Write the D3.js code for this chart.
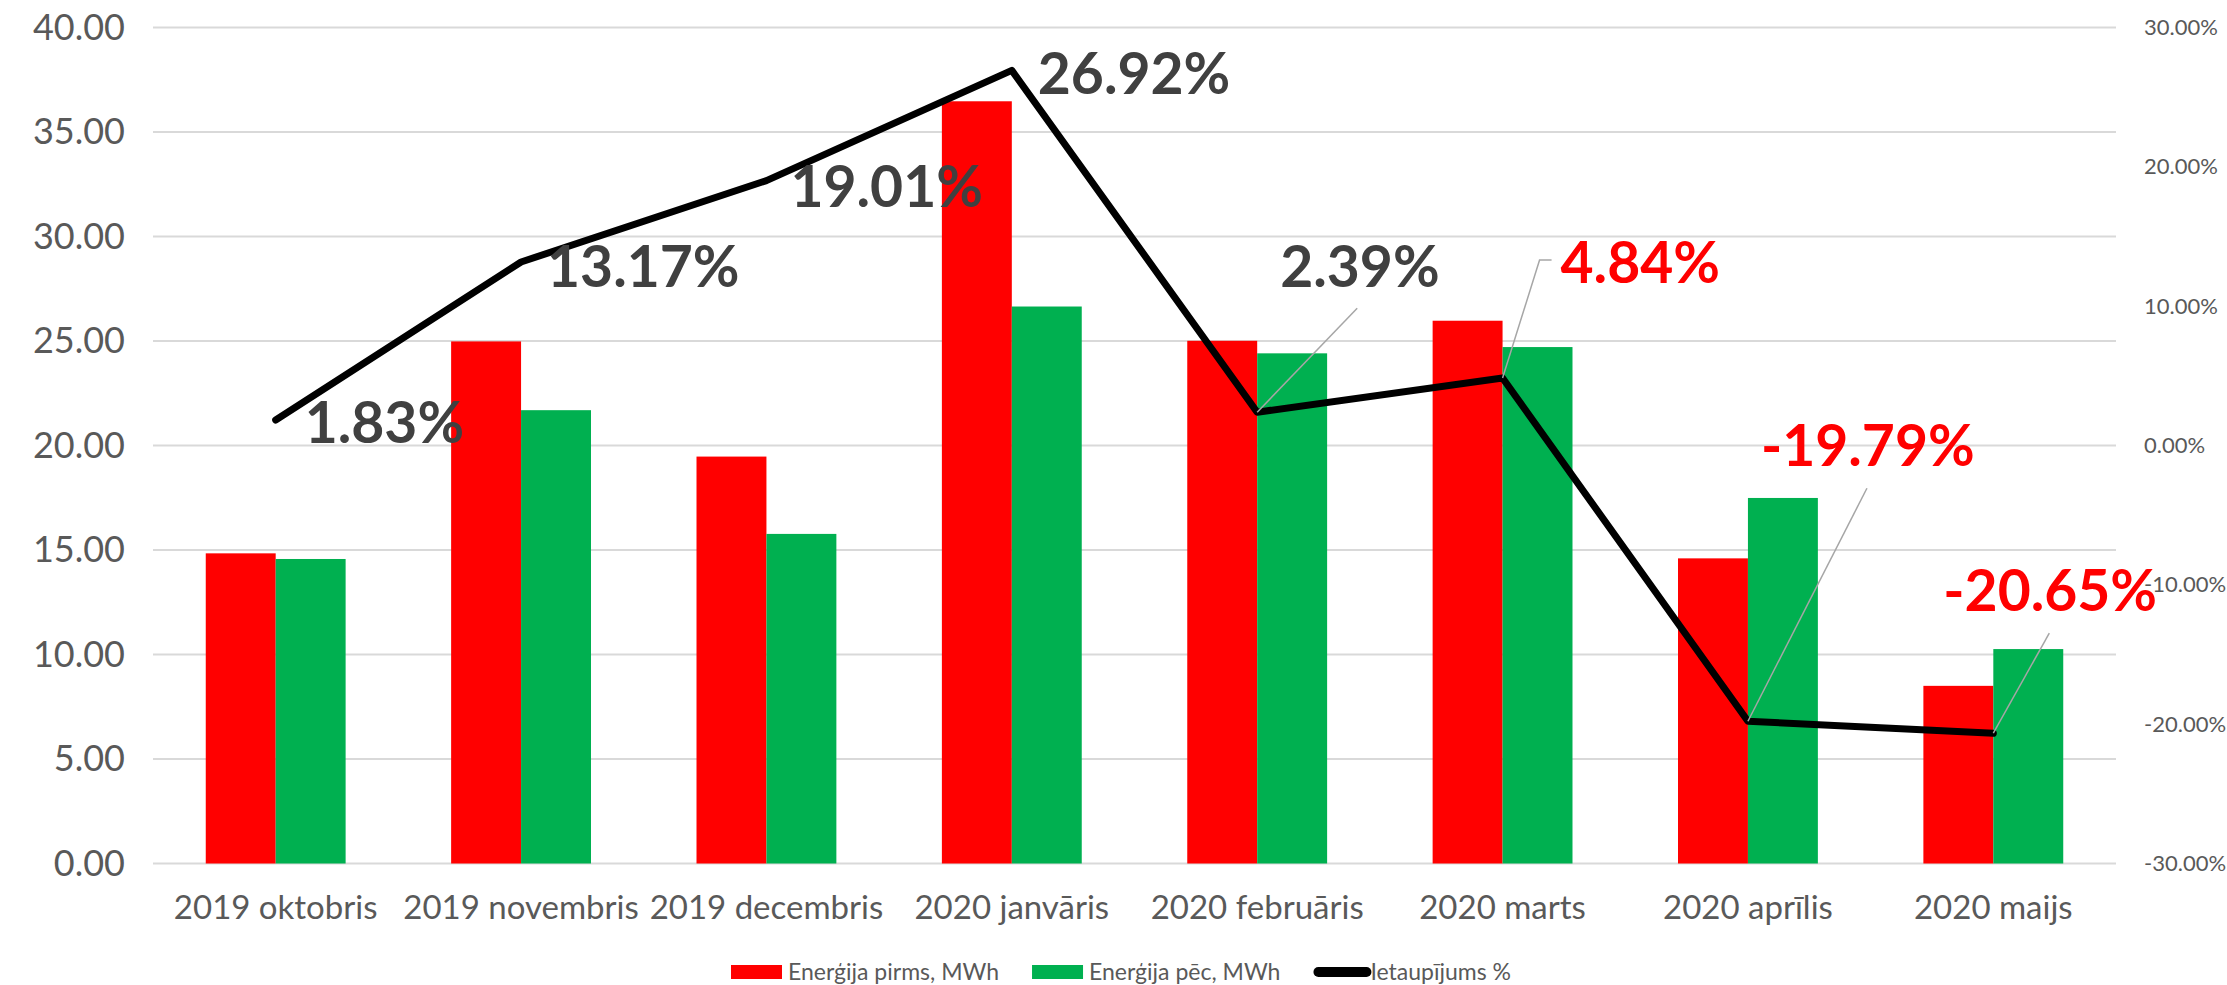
<!DOCTYPE html>
<html>
<head>
<meta charset="utf-8">
<script src="https://cdn.jsdelivr.net/npm/d3@7"></script>
<style>
  body { margin: 0; background: #fff; }
  text { font-family: Lato, "Noto Sans", sans-serif; }
</style>
</head>
<body>
<div id="chart"></div>
<script>
// Data
const months = ["2019 oktobris", "2019 novembris", "2019 decembris", "2020 janvāris",
  "2020 februāris", "2020 marts", "2020 aprīlis", "2020 maijs"];
const energyBefore = [14.84, 24.98, 19.47, 36.47, 25.01, 25.97, 14.60, 8.50];
const energyAfter = [14.57, 21.69, 15.77, 26.65, 24.41, 24.71, 17.49, 10.26];
const savings = [1.83, 13.17, 19.01, 26.92, 2.39, 4.84, -19.79, -20.65];
const leftTicks = [0, 5, 10, 15, 20, 25, 30, 35, 40];
const rightTicks = [-30, -20, -10, 0, 10, 20, 30];
const seriesNames = ["Enerģija pirms, MWh", "Enerģija pēc, MWh", "Ietaupījums %"];

// label placement: offset of text start / baseline from the point, optional leader line
const labelLayout = [
  { dx: 29, dy: 23, color: "#404040" },
  { dx: 26, dy: 25, color: "#404040" },
  { dx: 24, dy: 26, color: "#404040" },
  { dx: 26, dy: 24, color: "#404040" },
  { dx: 23, dy: -125, color: "#404040", leader: [[100, -104]] },
  { dx: 58, dy: -95, color: "#ff0000", leader: [[37, -118], [49, -118]] },
  { dx: 13, dy: -255, color: "#ff0000", leader: [[119, -233]] },
  { dx: -50, dy: -122, color: "#ff0000", leader: [[56, -100]] }
];

// excel style minus sign
const fmt = d3.formatLocale({ decimal: ".", thousands: ",", grouping: [3], currency: ["", ""], minus: "-" }).format(".2f");

// Setup layout
const svgWidth = 2227;
const svgHeight = 985;
const plot = { left: 153, right: 2116, top: 27.5, bottom: 863.5 };

const svg = d3.select("#chart")
  .append("svg")
  .attr("width", svgWidth)
  .attr("height", svgHeight);

// scales
const x0 = d3.scaleBand()
  .domain(months)
  .range([plot.left, plot.right]);

const groupWidth = x0.bandwidth() * 0.57;
const x1 = d3.scaleBand()
  .domain([0, 1])
  .range([(x0.bandwidth() - groupWidth) / 2, (x0.bandwidth() + groupWidth) / 2]);

const yLeft = d3.scaleLinear()
  .domain([0, 40])
  .range([plot.bottom, plot.top]);

const yRight = d3.scaleLinear()
  .domain([-30, 30])
  .range([plot.bottom, plot.top]);

// gridlines
svg.append("g")
  .selectAll("line")
  .data(leftTicks)
  .enter()
  .append("line")
  .attr("x1", plot.left)
  .attr("x2", plot.right)
  .attr("y1", d => yLeft(d))
  .attr("y2", d => yLeft(d))
  .attr("stroke", "#d9d9d9")
  .attr("stroke-width", 2);

// left axis
const leftAxis = d3.axisLeft(yLeft)
  .tickValues(leftTicks)
  .tickFormat(fmt)
  .tickSize(0)
  .tickPadding(28);

const gLeft = svg.append("g")
  .attr("transform", `translate(${plot.left}, 0)`)
  .call(leftAxis);
gLeft.select(".domain").remove();
gLeft.selectAll("text")
  .attr("font-family", "Lato")
  .attr("font-size", 36)
  .attr("fill", "#595959");

// right axis
const rightAxis = d3.axisRight(yRight)
  .tickValues(rightTicks)
  .tickFormat(d => fmt(d) + "%")
  .tickSize(0)
  .tickPadding(28);

const gRight = svg.append("g")
  .attr("transform", `translate(${plot.right}, 0)`)
  .call(rightAxis);
gRight.select(".domain").remove();
gRight.selectAll("text")
  .attr("font-family", "Lato")
  .attr("font-size", 22)
  .attr("fill", "#595959");

// bottom axis
const bottomAxis = d3.axisBottom(x0).tickSize(0).tickPadding(32);
const gBottom = svg.append("g")
  .attr("transform", `translate(0, ${plot.bottom})`)
  .call(bottomAxis);
gBottom.select(".domain").remove();
gBottom.selectAll("text")
  .attr("font-family", "Lato")
  .attr("font-size", 33)
  .attr("fill", "#595959");

// bars
const barColors = ["#ff0000", "#00b050"];
const groups = svg.append("g")
  .selectAll("g")
  .data(months)
  .enter()
  .append("g")
  .attr("transform", d => `translate(${x0(d)}, 0)`);

groups.selectAll("rect")
  .data((d, i) => [energyBefore[i], energyAfter[i]])
  .enter()
  .append("rect")
  .attr("x", (d, j) => x1(j))
  .attr("width", x1.bandwidth())
  .attr("y", d => yLeft(d))
  .attr("height", d => yLeft(0) - yLeft(d))
  .attr("fill", (d, j) => barColors[j]);

// savings line
const points = months.map((m, i) => [x0(m) + x0.bandwidth() / 2, yRight(savings[i])]);

svg.append("path")
  .attr("d", d3.line()(points))
  .attr("fill", "none")
  .attr("stroke", "#000")
  .attr("stroke-width", 7)
  .attr("stroke-linejoin", "round")
  .attr("stroke-linecap", "round");

// leader lines
points.forEach((p, i) => {
  const lay = labelLayout[i];
  if (!lay.leader) return;
  const pts = [p].concat(lay.leader.map(o => [p[0] + o[0], p[1] + o[1]]));
  svg.append("path")
    .attr("d", d3.line()(pts))
    .attr("fill", "none")
    .attr("stroke", "#a6a6a6")
    .attr("stroke-width", 1.5);
});

// data labels
svg.append("g")
  .selectAll("text")
  .data(savings)
  .enter()
  .append("text")
  .attr("x", (d, i) => points[i][0] + labelLayout[i].dx)
  .attr("y", (d, i) => points[i][1] + labelLayout[i].dy)
  .attr("font-family", "Lato")
  .attr("font-weight", "bold")
  .attr("font-size", 57)
  .attr("fill", (d, i) => labelLayout[i].color)
  .text(d => fmt(d) + "%");

// legend
const legend = svg.append("g").attr("transform", "translate(731, 972)");
let lx = 0;
seriesNames.forEach((name, i) => {
  if (i < 2) {
    legend.append("rect")
      .attr("x", lx)
      .attr("y", -7)
      .attr("width", 51)
      .attr("height", 14)
      .attr("fill", barColors[i]);
  } else {
    legend.append("line")
      .attr("x1", lx + 5)
      .attr("x2", lx + 53)
      .attr("y1", 0)
      .attr("y2", 0)
      .attr("stroke", "#000")
      .attr("stroke-width", 10)
      .attr("stroke-linecap", "round");
  }
  const t = legend.append("text")
    .attr("x", lx + 57)
    .attr("y", 0)
    .attr("dy", "0.35em")
    .attr("font-family", "Lato")
    .attr("font-size", 23)
    .attr("fill", "#595959")
    .text(name);
  lx += 57 + t.node().getComputedTextLength() + 33;
});
</script>
</body>
</html>
